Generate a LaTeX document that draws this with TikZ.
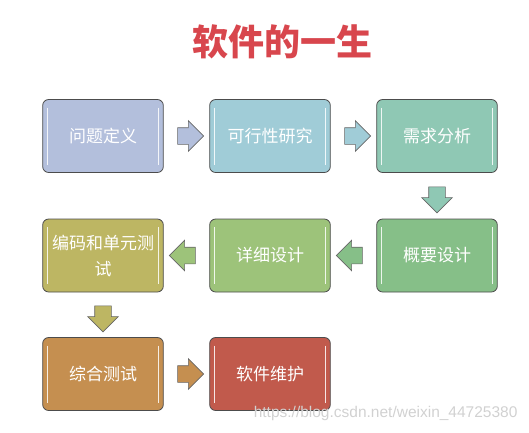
\documentclass[tikz,border=0pt]{standalone}
\usepackage{fontspec}
\setmainfont{Noto Sans CJK SC}
\newfontfamily\urlfont{Liberation Sans}
\usetikzlibrary{shapes.arrows,calc}
\definecolor{defcol}{HTML}{B3BFDC}
\definecolor{feascol}{HTML}{A0CCD7}
\definecolor{reqcol}{HTML}{8FC8B4}
\definecolor{outcol}{HTML}{86BF88}
\definecolor{detcol}{HTML}{9DC37A}
\definecolor{codecol}{HTML}{BDB663}
\definecolor{testcol}{HTML}{C58F50}
\definecolor{maintcol}{HTML}{C15A4C}
\definecolor{titlecol}{HTML}{D8464D}

\begin{document}
\begin{tikzpicture}[x=1pt,y=-1pt,
    stage/.style={draw=black!70, line width=0.8pt, rounded corners=6pt,
      minimum width=120pt, minimum height=73pt, text width=114pt, align=center,
      text=white, font=\fontsize{17}{26}\selectfont, fill=#1,
      path picture={
        \draw[white, line width=1.6pt, opacity=0.85]
          ([xshift=5pt,yshift=-8pt]path picture bounding box.north west)
          -- ([xshift=5pt,yshift=8pt]path picture bounding box.south west)
          ([xshift=-5pt,yshift=-8pt]path picture bounding box.north east)
          -- ([xshift=-5pt,yshift=8pt]path picture bounding box.south east);}},
    flow/.style={single arrow, draw=black!60, line width=0.6pt, fill=#1,
      inner xsep=0pt, inner ysep=8pt, minimum height=26pt,
      single arrow head extend=7pt}]
  \useasboundingbox (0,0) rectangle (529,432);
  \node[font=\fontsize{36}{36}\selectfont\bfseries, text=titlecol] (title) at (282,42) {软件的一生};
  \node[stage=defcol] (def) at (103,136) {问题定义};
  \node[stage=feascol] (feas) at (270,136) {可行性研究};
  \node[stage=reqcol] (req) at (437,136) {需求分析};
  \node[stage=outcol] (out) at (437,255.5) {概要设计};
  \node[stage=detcol] (det) at (270,255.5) {详细设计};
  \node[stage=codecol] (code) at (103,255.5) {编码和单元测\\试};
  \node[stage=testcol] (test) at (103,374) {综合测试};
  \node[stage=maintcol] (maint) at (270,374) {软件维护};
  \node[flow=defcol] (a1) at ($(def.east)!0.5!(feas.west)$) {};
  \node[flow=feascol] (a2) at ($(feas.east)!0.5!(req.west)$) {};
  \node[flow=reqcol, rotate=-90] (a3) at ($(req.south)!0.5!(out.north)$) {};
  \node[flow=outcol, rotate=180] (a4) at ($(out.west)!0.5!(det.east)$) {};
  \node[flow=detcol, rotate=180] (a5) at ($(det.west)!0.5!(code.east)$) {};
  \node[flow=codecol, rotate=-90] (a6) at ($(code.south)!0.5!(test.north)$) {};
  \node[flow=testcol] (a7) at ($(test.east)!0.5!(maint.west)$) {};
  \node[font=\urlfont\fontsize{15.5}{15.5}\selectfont, text=black!18, anchor=east] (url) at (521,413) {https://blog.csdn.net/weixin\_44725380};
\end{tikzpicture}
\end{document}
